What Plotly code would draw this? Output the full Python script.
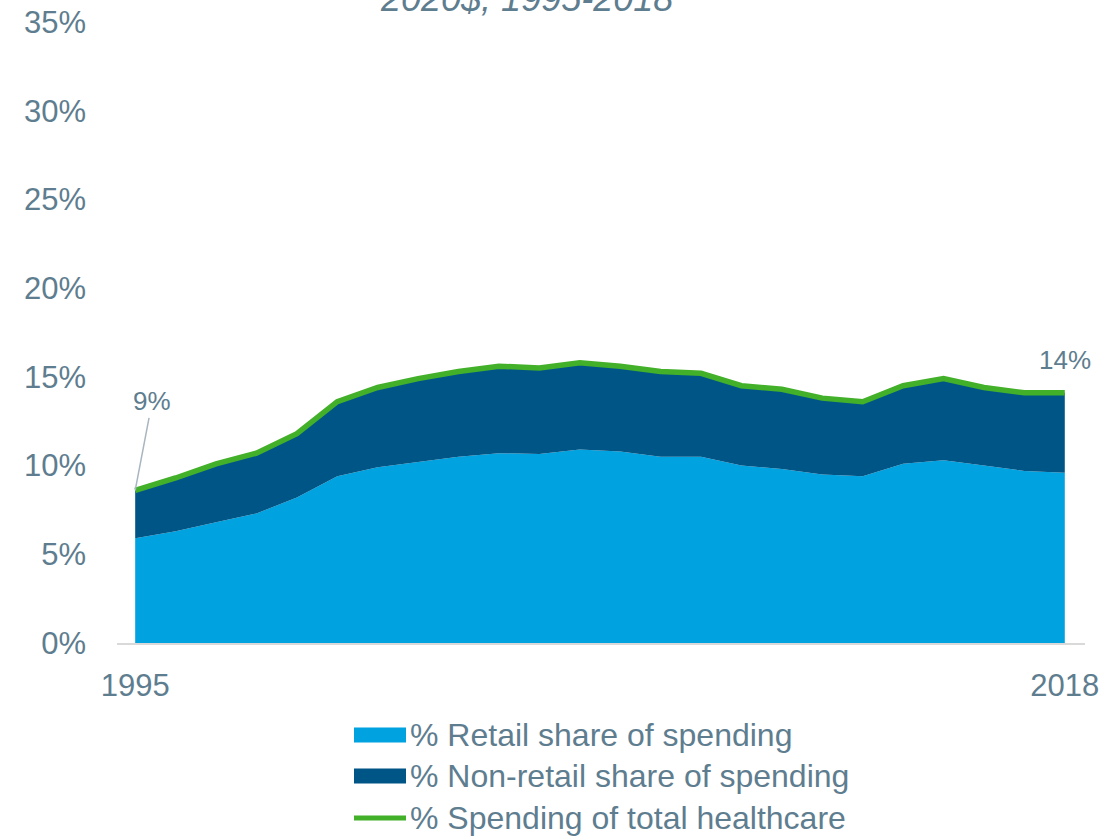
import plotly.graph_objects as go

# Outpatient drug spending as a share of total healthcare spending
years = list(range(1995, 2019))
retail_share = [5.9, 6.3, 6.8, 7.3, 8.2, 9.4, 9.9, 10.2, 10.5, 10.7, 10.65, 10.9,
                10.8, 10.5, 10.5, 10.0, 9.8, 9.5, 9.4, 10.1, 10.3, 10.0, 9.7, 9.6]
total_share = [8.6, 9.3, 10.1, 10.7, 11.8, 13.6, 14.4, 14.9, 15.3, 15.6, 15.5, 15.8,
               15.6, 15.3, 15.2, 14.5, 14.3, 13.8, 13.6, 14.5, 14.9, 14.4, 14.1, 14.1]
nonretail_share = [t - r for t, r in zip(total_share, retail_share)]

y_ticks = [0, 5, 10, 15, 20, 25, 30, 35]
x_ticks = [1995, 2018]

series_names = ["% Retail share of spending",
                "% Non-retail share of spending",
                "% Spending of total healthcare"]

TEXT = "#5e7d8f"
FONT = "Liberation Sans, Arial, sans-serif"
RETAIL = "#00a2e0"
NONRETAIL = "#005587"
GREEN = "#43b02a"

W, H = 1114, 836
M_L, M_R, M_T, M_B = 117, 29, 22, 193
PW, PH = W - M_L - M_R, H - M_T - M_B


def px_x(px):
    """Pixel column -> paper x."""
    return (px - M_L) / PW


def px_y(py):
    """Pixel row -> paper y."""
    return (H - M_B - py) / PH


fig = go.Figure()
fig.add_trace(go.Scatter(
    x=years, y=retail_share, name=series_names[0],
    stackgroup="one", mode="none", fillcolor=RETAIL, hoverinfo="skip"))
fig.add_trace(go.Scatter(
    x=years, y=nonretail_share, name=series_names[1],
    stackgroup="one", mode="none", fillcolor=NONRETAIL, hoverinfo="skip"))
fig.add_trace(go.Scatter(
    x=years, y=total_share, name=series_names[2],
    mode="lines", line=dict(color=GREEN, width=5.5)))

# End-point value labels
fig.add_annotation(
    x=years[0], y=total_share[0], text=f"{round(total_share[0])}%",
    showarrow=True, arrowhead=0, arrowwidth=1.5, arrowcolor="#a9b6c0",
    ax=17, ay=-89, standoff=0, font=dict(size=26, color=TEXT, family=FONT))
fig.add_annotation(
    x=years[-1], y=total_share[-1], text=f"{round(total_share[-1])}%",
    showarrow=False, yshift=33, xanchor="center",
    font=dict(size=26, color=TEXT, family=FONT))

# Subtitle line of the chart heading (runs off the top edge)
fig.add_annotation(
    xref="paper", yref="paper", x=px_x(526), y=px_y(21), yanchor="bottom",
    text="<i>2020$, 1995-2018</i>", showarrow=False,
    font=dict(size=36, color=TEXT, family=FONT))

# Legend drawn below the plot: swatch + label per series
legend_rows = [735, 776, 818]
for name, color, row, kind in zip(series_names, [RETAIL, NONRETAIL, GREEN],
                                  legend_rows, ["box", "box", "line"]):
    if kind == "box":
        fig.add_shape(type="rect", xref="paper", yref="paper",
                      x0=px_x(354), x1=px_x(406), y0=px_y(row + 7.5), y1=px_y(row - 7.5),
                      fillcolor=color, line=dict(width=0))
    else:
        fig.add_shape(type="line", xref="paper", yref="paper",
                      x0=px_x(354), x1=px_x(406), y0=px_y(row), y1=px_y(row),
                      line=dict(color=color, width=5))
    fig.add_annotation(xref="paper", yref="paper", x=px_x(408), y=px_y(row),
                       xanchor="left", yanchor="middle", text=name, showarrow=False,
                       font=dict(size=32, color=TEXT, family=FONT))

fig.update_layout(
    width=W, height=H,
    margin=dict(l=M_L, r=M_R, t=M_T, b=M_B, autoexpand=False),
    paper_bgcolor="white", plot_bgcolor="white",
    font=dict(family=FONT, color=TEXT, size=31),
    showlegend=False,
)
fig.update_xaxes(
    range=[1994.55, 2018.5], tickvals=x_ticks, ticktext=[str(v) for v in x_ticks],
    showgrid=False, zeroline=False, showline=True, linecolor="#d9d9d9", linewidth=2,
    ticks="", ticklabelstandoff=14, tickfont=dict(size=31, color=TEXT, family=FONT))
fig.update_yaxes(
    range=[0, 35], tickvals=y_ticks, ticktext=[f"{v}%" for v in y_ticks],
    showgrid=False, zeroline=False, showline=False,
    ticks="", ticklabelstandoff=30, tickfont=dict(size=31, color=TEXT, family=FONT))

fig.write_html("out.html")
